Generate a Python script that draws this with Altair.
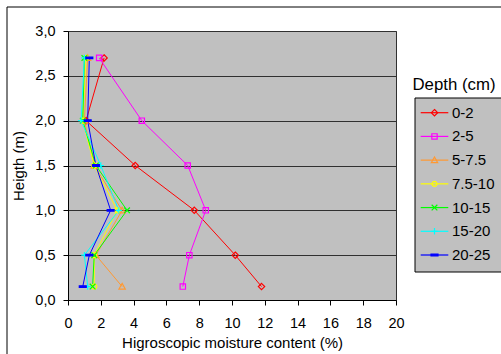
import altair as alt
import pandas as pd

heights = [2.7, 2.0, 1.5, 1.0, 0.5, 0.15]
depths = ["0-2", "2-5", "5-7.5", "7.5-10", "10-15", "15-20", "20-25"]
d_0_2 = [2.2, 1.1, 4.1, 7.7, 10.2, 11.8]
d_2_5 = [1.9, 4.5, 7.3, 8.4, 7.4, 7.0]
d_5_75 = [1.2, 1.0, 1.6, 3.3, 1.7, 3.3]
d_75_10 = [1.1, 0.9, 1.6, 3.0, 1.6, 1.6]
d_10_15 = [1.0, 0.9, 1.7, 3.6, 1.6, 1.5]
d_15_20 = [1.0, 0.8, 2.0, 3.1, 1.0, 1.2]
d_20_25 = [1.3, 1.2, 1.7, 2.6, 1.3, 0.9]
x_ticks = [0, 2, 4, 6, 8, 10, 12, 14, 16, 18, 20]
y_ticks = [0.0, 0.5, 1.0, 1.5, 2.0, 2.5, 3.0]

colors = ["#FF0000", "#FF00FF", "#FF9933", "#FFFF00", "#00FF00", "#00FFFF", "#0000FF"]
fills = ["transparent"] * 6 + ["#0000FF"]

plot_shapes = [
    "M0,-1L1,0L0,1L-1,0Z",
    "M-0.85,-0.85H0.85V0.85H-0.85Z",
    "M0,-1L1,0.8H-1Z",
    "M-0.8,0A0.8,0.8 0 1,0 0.8,0A0.8,0.8 0 1,0 -0.8,0Z",
    "M-0.9,-0.9L0.9,0.9M-0.9,0.9L0.9,-0.9",
    "M0,-1V1M-1,0H1",
    "M-1.1,-0.25H1.1V0.25H-1.1Z",
]

series = [d_0_2, d_2_5, d_5_75, d_75_10, d_10_15, d_15_20, d_20_25]
rows = []
for dep, vals in zip(depths, series):
    for h, v in zip(heights, vals):
        rows.append({"Depth": dep, "h": h, "m": v})
df = pd.DataFrame(rows)
leg_df = pd.DataFrame({"Depth": depths})

FONT = "Liberation Sans"
MSIZE = 40

xaxis = alt.Axis(values=x_ticks, tickCount=11, title="Higroscopic moisture content (%)", grid=False,
                 tickSize=5, labelPadding=11, titlePadding=6, domainColor="#000",
                 labelOverlap=False, labelFlush=False,
                 tickColor="#000", labelFont=FONT, labelFontSize=14.5, labelColor="#000",
                 titleFont=FONT, titleFontSize=15, titleFontWeight="normal", titleColor="#000")
yaxis = alt.Axis(values=y_ticks, title="Heigth (m)", grid=True, gridColor="#303030",
                 gridWidth=1, tickSize=5, labelPadding=8, titlePadding=8,
                 labelOverlap=False,
                 labelExpr="replace(format(datum.value, '.1f'), '.', ',')",
                 domainColor="#000", tickColor="#000", labelFont=FONT, labelFontSize=14.5,
                 labelColor="#000", titleFont=FONT, titleFontSize=15,
                 titleFontWeight="normal", titleColor="#000")


def xenc():
    return alt.X("m:Q", scale=alt.Scale(domain=[0, 20], nice=False, zero=False), axis=xaxis)


def yenc():
    return alt.Y("h:Q", scale=alt.Scale(domain=[0, 3], nice=False), axis=yaxis)


def cenc():
    return alt.Color("Depth:N", scale=alt.Scale(domain=depths, range=colors), legend=None)


def senc():
    return alt.Shape("Depth:N", scale=alt.Scale(domain=depths, range=plot_shapes), legend=None)


def fenc():
    return alt.Fill("Depth:N", scale=alt.Scale(domain=depths, range=fills), legend=None)


base = alt.Chart(df)

lines = base.mark_line(strokeWidth=1, clip=False).encode(
    x=xenc(), y=yenc(), color=cenc(), detail="Depth:N", order=alt.Order("h:Q"),
)
points = base.mark_point(size=MSIZE, strokeWidth=1.2, opacity=1).encode(
    x=xenc(), y=yenc(), color=cenc(), shape=senc(), fill=fenc(),
)
data_layer = alt.layer(lines, points)

# legend drawn from the depth list through its own point scale
leg_y = alt.Y("Depth:N", scale=alt.Scale(type="point", domain=depths, range=[81.7, 224], padding=0),
              axis=None)
lbase = alt.Chart(leg_df)
leg_box = alt.Chart(pd.DataFrame({"t": ["Depth (cm)"]})).mark_rect(
    fill="#C0C0C0", stroke="#000", strokeWidth=1).encode(
    x=alt.value(347), x2=alt.value(460), y=alt.value(67), y2=alt.value(241))
leg_lines = lbase.mark_rule(strokeWidth=1.2).encode(
    x=alt.value(352.7), x2=alt.value(380.3), y=leg_y, color=cenc())
leg_syms = lbase.mark_point(size=MSIZE, strokeWidth=1.2, opacity=1).encode(
    x=alt.value(366.5), y=leg_y, color=cenc(), shape=senc(), fill=fenc())
leg_text = lbase.mark_text(font=FONT, fontSize=15, color="#000", align="left",
                           baseline="middle").encode(
    x=alt.value(384), y=leg_y, text="Depth:N")
leg_title = alt.Chart(pd.DataFrame({"t": ["Depth (cm)"]})).mark_text(
    font=FONT, fontSize=16.8, color="#000", align="center", baseline="middle").encode(
    x=alt.value(386), y=alt.value(54), text="t:N")
legend_layer = alt.layer(leg_box, leg_lines, leg_syms, leg_text)

frame = alt.Chart(pd.DataFrame({"t": ["frame"]})).mark_rect(
    fill=None, stroke="#000", strokeWidth=1).encode(
    x=alt.value(-61), y=alt.value(-24), x2=alt.value(700), y2=alt.value(600))

chart = alt.layer(frame, data_layer, legend_layer, leg_title).resolve_scale(
    y="independent"
).properties(
    width=328, height=269,
    autosize=alt.AutoSizeParams(type="none"),
    padding={"left": 68, "top": 31, "right": 105, "bottom": 54},
    background="#FFFFFF",
).configure_view(fill="#C0C0C0", stroke="#303030", strokeWidth=1)

chart.save("out.html", embed_options={"renderer": "svg", "actions": False})
